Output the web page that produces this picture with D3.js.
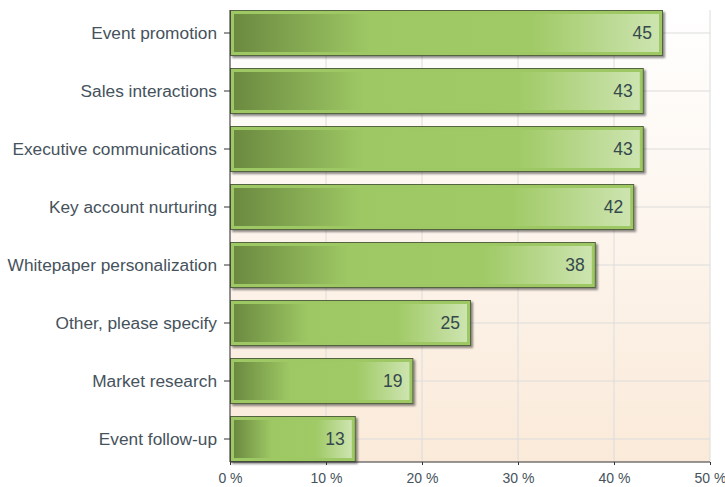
<!DOCTYPE html>
<html>
<head>
<meta charset="utf-8">
<script src="https://cdn.jsdelivr.net/npm/d3@7"></script>
<style>
body { margin: 0; background: #fff; }
text { font-family: "Liberation Sans", Arial, sans-serif; }
</style>
</head>
<body>
<script>
let categories = ["Event promotion", "Sales interactions", "Executive communications",
  "Key account nurturing", "Whitepaper personalization", "Other, please specify",
  "Market research", "Event follow-up"];
let values = [45, 43, 43, 42, 38, 25, 19, 13];
let xTicks = [0, 10, 20, 30, 40, 50];

let width = 725, height = 487;
let plotLeft = 230, plotRight = 710, plotTop = 10, plotBottom = 462;

let svg = d3.select("body").append("svg")
  .attr("width", width).attr("height", height);

let defs = svg.append("defs");

let bg = defs.append("linearGradient").attr("id", "bg")
  .attr("x1", 0).attr("y1", 0).attr("x2", 0).attr("y2", 1);
bg.append("stop").attr("offset", "0%").attr("stop-color", "#ffffff");
bg.append("stop").attr("offset", "100%").attr("stop-color", "#faead9");

let barFill = defs.append("linearGradient").attr("id", "barFill")
  .attr("x1", 0).attr("y1", 0).attr("x2", 1).attr("y2", 0);
barFill.append("stop").attr("offset", "0%").attr("stop-color", "#6b8a40");
barFill.append("stop").attr("offset", "32%").attr("stop-color", "#9ec864");
barFill.append("stop").attr("offset", "70%").attr("stop-color", "#a0ca66");
barFill.append("stop").attr("offset", "100%").attr("stop-color", "#cde4b0");

let shadow = defs.append("filter").attr("id", "shadow")
  .attr("x", "-5%").attr("y", "-10%").attr("width", "115%").attr("height", "130%");
shadow.append("feDropShadow").attr("dx", 2).attr("dy", 2)
  .attr("stdDeviation", 1.2).attr("flood-color", "#000").attr("flood-opacity", 0.45);

let x = d3.scaleLinear().domain([0, 50]).range([plotLeft, plotRight]);
let y = d3.scaleBand().domain(categories).range([plotTop, plotBottom])
  .paddingInner(12 / 58).paddingOuter(0);

// plot background
svg.append("rect").attr("x", plotLeft).attr("y", plotTop)
  .attr("width", plotRight - plotLeft).attr("height", plotBottom - plotTop)
  .attr("fill", "url(#bg)");

// grid
svg.append("g").selectAll("line").data(xTicks).enter().append("line")
  .attr("x1", d => x(d)).attr("x2", d => x(d))
  .attr("y1", plotTop).attr("y2", plotBottom)
  .attr("stroke", "#dcdcdc").attr("stroke-width", 1);
svg.append("g").selectAll("line").data(categories).enter().append("line")
  .attr("x1", plotLeft).attr("x2", plotRight)
  .attr("y1", d => y(d) + y.bandwidth() / 2).attr("y2", d => y(d) + y.bandwidth() / 2)
  .attr("stroke", "#dcdcdc").attr("stroke-width", 1);

// bars
let bars = svg.append("g").selectAll("g").data(categories).enter().append("g");
bars.append("rect")
  .attr("x", plotLeft + 0.5)
  .attr("y", d => y(d) + 0.5)
  .attr("width", (d, i) => x(values[i]) - plotLeft)
  .attr("height", y.bandwidth() - 1)
  .attr("fill", "#9dc863")
  .attr("stroke", "#56633f")
  .attr("stroke-width", 1)
  .attr("filter", "url(#shadow)");
bars.append("rect")
  .attr("x", plotLeft + 4)
  .attr("y", d => y(d) + 4)
  .attr("width", (d, i) => x(values[i]) - plotLeft - 7)
  .attr("height", y.bandwidth() - 8)
  .attr("fill", "url(#barFill)");
bars.append("text")
  .attr("x", (d, i) => x(values[i]) - 10)
  .attr("y", d => y(d) + y.bandwidth() / 2 + 6)
  .attr("text-anchor", "end")
  .attr("font-size", 17.5)
  .attr("fill", "#35484c")
  .text((d, i) => values[i]);

// y axis
let yAxis = svg.append("g").attr("transform", `translate(${plotLeft},0)`)
  .call(d3.axisLeft(y).tickSize(6).tickPadding(7));
yAxis.select(".domain").attr("stroke", "#333").attr("d", `M0,${plotTop}V${plotBottom}`);
yAxis.selectAll(".tick line").attr("stroke", "#333");
yAxis.selectAll(".tick text").attr("font-size", 17.3).attr("fill", "#46525c")
  .style("font-family", "'Liberation Sans', Arial, sans-serif");

// x axis
let xAxis = svg.append("g").attr("transform", `translate(0,${plotBottom})`)
  .call(d3.axisBottom(x).tickValues(xTicks).tickFormat(d => d + " %").tickSize(3).tickPadding(8));
xAxis.select(".domain").attr("stroke", "#333").attr("d", `M${plotLeft},0H${plotRight}`);
xAxis.selectAll(".tick line").attr("stroke", "#333");
xAxis.selectAll(".tick text").attr("font-size", 14).attr("fill", "#46525c")
  .style("font-family", "'Liberation Sans', Arial, sans-serif");
</script>
</body>
</html>
